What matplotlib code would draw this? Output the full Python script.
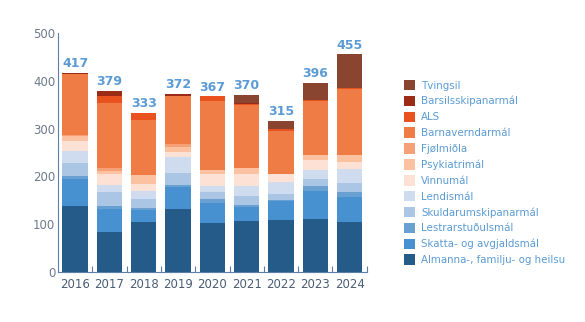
import matplotlib.pyplot as plt
from matplotlib.patches import Patch

years = ['2016', '2017', '2018', '2019', '2020', '2021', '2022', '2023', '2024']

categories = ['Almanna-, familju- og heilsu', 'Skatta- og avgjaldsmál', 'Lestrarstuðulsmál',
              'Skuldarumskipanarmál', 'Lendismál', 'Vinnumál', 'Psykiatrimál', 'Fjølmiðla',
              'Barnaverndarmál', 'ALS', 'Barsilsskipanarmál', 'Tvingsil']

almanna = [138, 84, 104, 131, 102, 106, 108, 110, 104]
skatta = [56, 47, 25, 47, 42, 30, 40, 59, 52]
lestrar = [6, 8, 4, 4, 8, 5, 2, 10, 11]
skuldar = [28, 28, 20, 26, 15, 17, 13, 15, 19]
lendis = [26, 14, 16, 32, 12, 22, 25, 20, 29]
vinnu = [21, 23, 16, 11, 25, 25, 18, 21, 15]
psyk = [9, 8, 17, 10, 10, 12, 0, 10, 15]
fjolmidla = [3, 5, 0, 6, 0, 0, 0, 0, 0]
barna = [126, 137, 115, 102, 143, 133, 89, 112, 137]
als = [0, 15, 16, 0, 10, 2, 4, 3, 3]
barsil = [4, 10, 0, 3, 0, 2, 0, 0, 0]
tvingsil = [0, 0, 0, 0, 0, 16, 16, 36, 70]

totals = [417, 379, 333, 372, 367, 370, 315, 396, 455]

series = [almanna, skatta, lestrar, skuldar, lendis, vinnu, psyk, fjolmidla,
          barna, als, barsil, tvingsil]
colours = ['#245b89', '#4791d0', '#6a9fd1', '#abc6e5', '#cfdcef', '#fde1d4',
           '#fbc1a0', '#f6a078', '#ef7b45', '#e9511f', '#9b2b17', '#8a4530']

fig = plt.figure(figsize=(5.85, 3.22), dpi=100)
ax = fig.add_axes([0.099, 0.155, 0.528, 0.743])

x = range(len(years))
bottom = [0] * len(years)
for vals, col in zip(series, colours):
    ax.bar(x, vals, bottom=bottom, width=0.74, color=col, linewidth=0)
    bottom = [b + v for b, v in zip(bottom, vals)]

for i, t in enumerate(totals):
    ax.text(i, t + 6, str(t), ha='center', va='bottom', fontsize=9,
            fontweight='bold', color='#5b9bd5')

ax.set_xlim(-0.5, 8.5)
ax.set_ylim(0, 500)
ax.set_yticks([0, 100, 200, 300, 400, 500])
ax.set_xticks(list(x))
ax.set_xticklabels(years)
ax.set_xticks([i + 0.5 for i in range(9)], minor=True)
ax.tick_params(axis='x', which='major', length=0, labelsize=8.5, colors='#4a5d75', pad=4)
ax.tick_params(axis='x', which='minor', direction='in', length=4, color='#5b7fa8', width=0.8)
ax.tick_params(axis='y', length=0, labelsize=8.5, colors='#6b7a8c', pad=2)

for s in ['top', 'right']:
    ax.spines[s].set_visible(False)
ax.spines['left'].set_color('#5b7fa8')
ax.spines['bottom'].set_color('#5b7fa8')

handles = [Patch(facecolor=c, label=l) for c, l in zip(colours, categories)]
leg = fig.legend(handles=handles[::-1], loc='upper left', bbox_to_anchor=(0.683, 0.765),
                 frameon=False, fontsize=7.4, handlelength=1.15, handleheight=1.2,
                 labelspacing=0.5, handletextpad=0.55, borderaxespad=0)
for txt in leg.get_texts():
    txt.set_color('#5b9bd5')

fig.savefig('out.png', dpi=100)
